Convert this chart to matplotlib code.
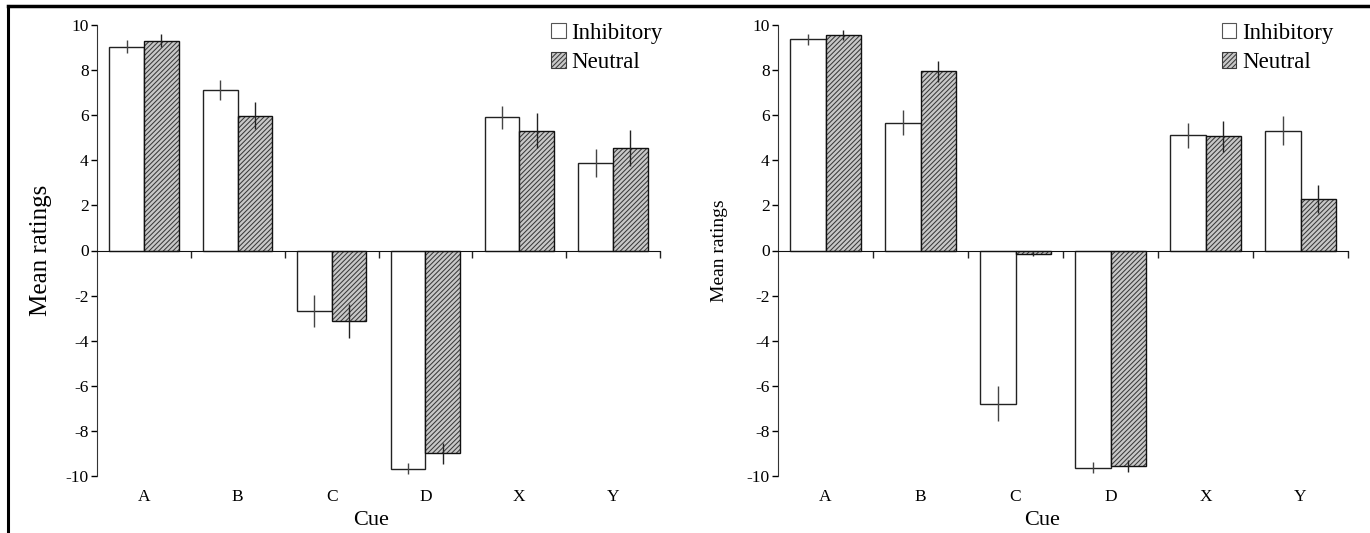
import numpy as np
import matplotlib
matplotlib.use('Agg')
import matplotlib.pyplot as plt
from matplotlib.patches import Patch
from matplotlib.lines import Line2D

cues = ['A', 'B', 'C', 'D', 'X', 'Y']

left_inhib = [9.04, 7.11, -2.68, -9.67, 5.90, 3.88]
left_inhib_err = [0.28, 0.44, 0.70, 0.23, 0.52, 0.60]
left_neut = [9.30, 5.97, -3.14, -9.00, 5.32, 4.56]
left_neut_err = [0.29, 0.60, 0.76, 0.45, 0.77, 0.80]

right_inhib = [9.36, 5.67, -6.79, -9.63, 5.11, 5.32]
right_inhib_err = [0.24, 0.54, 0.77, 0.24, 0.55, 0.65]
right_neut = [9.56, 7.94, -0.15, -9.56, 5.07, 2.28]
right_neut_err = [0.22, 0.47, 0.08, 0.26, 0.68, 0.61]

yticks = [-10, -8, -6, -4, -2, 0, 2, 4, 6, 8, 10]

plt.rcParams['font.family'] = ['Liberation Serif', 'DejaVu Serif']
plt.rcParams['axes.unicode_minus'] = False
plt.rcParams['hatch.linewidth'] = 0.75

FACE = '#c8c8c8'
HATCH_C = '#3a3a3a'
HATCH = '///////'


def draw_panel(ax, inhib, inhib_err, neut, neut_err, ylabel_size, ylabel_x, cue_x, legend_x):
    x = np.arange(len(cues))
    w = 0.37
    ax.bar(x - w / 2, inhib, w, color='white', edgecolor='#222222', linewidth=1.0, zorder=2)
    ax.bar(x + w / 2, neut, w, color=FACE, edgecolor=HATCH_C, hatch=HATCH, linewidth=0, zorder=2)
    ax.bar(x + w / 2, neut, w, fill=False, edgecolor='#111111', linewidth=1.0, zorder=3)
    ax.errorbar(x - w / 2, inhib, yerr=inhib_err, fmt='none', ecolor='#444444', elinewidth=1.0, capsize=0, zorder=4)
    ax.errorbar(x + w / 2, neut, yerr=neut_err, fmt='none', ecolor='#222222', elinewidth=1.0, capsize=0, zorder=4)

    ax.set_xlim(-0.5, len(cues) - 0.5)
    ax.set_ylim(-10, 10)
    ax.set_yticks(yticks)
    ax.set_yticklabels([str(t) for t in yticks], fontsize=12.5)
    ax.tick_params(axis='y', direction='out', length=4, width=1, pad=2)

    for s in ['top', 'right']:
        ax.spines[s].set_visible(False)
    ax.spines['left'].set_color('#333333')
    ax.spines['bottom'].set_position(('data', 0))
    ax.spines['bottom'].set_color('#111111')
    ax.set_xticks(x + 0.5)
    ax.set_xticklabels([])
    ax.tick_params(axis='x', direction='out', length=5, width=1, color='#222222')

    for i, c in enumerate(cues):
        ax.text(i, -0.047, c, transform=ax.get_xaxis_transform(), ha='center', va='center', fontsize=12.5)
    ax.text(cue_x, -0.098, 'Cue', transform=ax.transAxes, ha='center', va='center', fontsize=16)

    ax.set_ylabel('Mean ratings', fontsize=ylabel_size)
    ax.yaxis.set_label_coords(ylabel_x, 0.5)

    handles = [Patch(facecolor='white', edgecolor='#555555', linewidth=0.8),
               Patch(facecolor=FACE, edgecolor=HATCH_C, hatch=HATCH, linewidth=0.8)]
    ax.legend(handles, ['Inhibitory', 'Neutral'], loc='upper left', bbox_to_anchor=(legend_x, 1.025),
              frameon=False, fontsize=16.5, handlelength=0.65, handleheight=0.65,
              handletextpad=0.25, labelspacing=0.35, borderaxespad=0)


fig = plt.figure(figsize=(13.7, 5.33), dpi=100)
ax1 = fig.add_axes([97 / 1370, 1 - 476 / 533, 563 / 1370, 451 / 533])
ax2 = fig.add_axes([778 / 1370, 1 - 476 / 533, 570 / 1370, 451 / 533])

draw_panel(ax1, left_inhib, left_inhib_err, left_neut, left_neut_err, 18, -0.08, 0.487, 0.79)
draw_panel(ax2, right_inhib, right_inhib_err, right_neut, right_neut_err, 14, -0.088, 0.463, 0.762)

# outer frame: top and left edges only
fig.add_artist(Line2D([0.0058, 1.0], [1 - 6 / 533, 1 - 6 / 533], transform=fig.transFigure, color='black', linewidth=2.5))
fig.add_artist(Line2D([0.0058, 0.0058], [0.0, 1 - 6 / 533], transform=fig.transFigure, color='black', linewidth=2.2))

fig.savefig('out.png', dpi=100)
